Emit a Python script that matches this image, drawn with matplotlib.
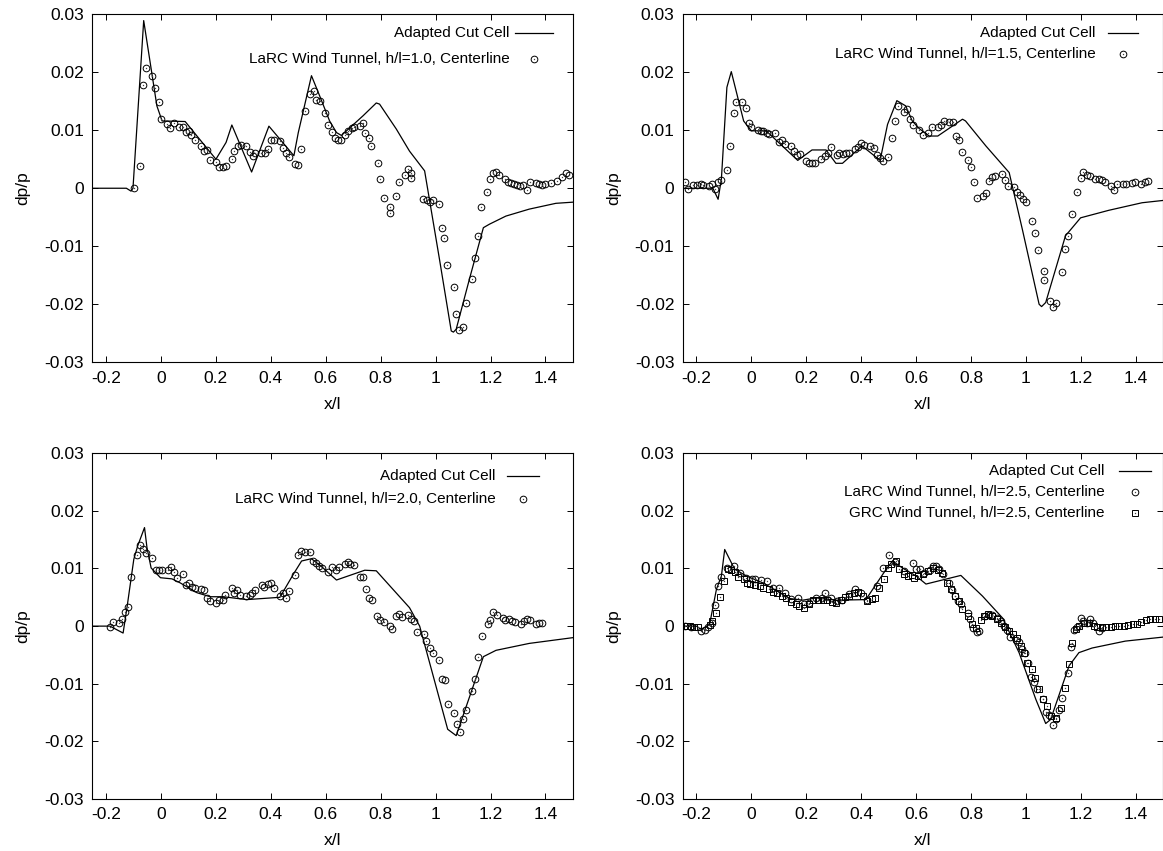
"""
Centerline pressure signatures dp/p vs x/l: adapted cut-cell solution
compared with wind-tunnel data at four h/l stations (2x2 panels).
"""

import matplotlib
matplotlib.use("Agg")
import matplotlib.pyplot as plt
from matplotlib.ticker import FuncFormatter

# ---------------------------------------------------------------------------
# Data
# ---------------------------------------------------------------------------
# h/l = 1.0
cfd10_x = [-0.25, -0.126, -0.109, -0.102, -0.063, -0.015, 0.004, 0.088, 0.2, 0.237,
           0.258, 0.33, 0.393, 0.484, 0.5, 0.548, 0.578, 0.614, 0.639, 0.657, 0.736,
           0.784, 0.796, 0.857, 0.905, 0.96, 1.014, 1.057, 1.065, 1.075, 1.123, 1.174,
           1.196, 1.256, 1.341, 1.438, 1.5]
cfd10_y = [0, 0, -0.0005, 0, 0.0289, 0.0142, 0.0116, 0.0115, 0.005, 0.0079,
           0.0109, 0.0028, 0.0107, 0.0056, 0.0096, 0.0194, 0.0159, 0.0116, 0.0096, 0.0091, 0.0125,
           0.0147, 0.0145, 0.0102, 0.0064, 0.003, -0.0122, -0.0246, -0.0248, -0.0243, -0.0157, -0.0068,
           -0.0062, -0.0048, -0.0036, -0.0026, -0.0024]
larc10_x = [-0.099, -0.076, -0.067, -0.053, -0.033, -0.021, -0.008, 0.001, 0.023, 0.034,
            0.046, 0.067, 0.079, 0.091, 0.102, 0.111, 0.125, 0.145, 0.156, 0.168,
            0.178, 0.2, 0.212, 0.224, 0.235, 0.258, 0.267, 0.279, 0.29, 0.311,
            0.323, 0.334, 0.344, 0.365, 0.379, 0.391, 0.399, 0.411, 0.433, 0.444,
            0.455, 0.467, 0.488, 0.5, 0.511, 0.524, 0.543, 0.556, 0.566, 0.578,
            0.599, 0.61, 0.622, 0.633, 0.645, 0.657, 0.669, 0.681, 0.694, 0.702,
            0.726, 0.736, 0.744, 0.756, 0.766, 0.789, 0.799, 0.811, 0.833, 0.833,
            0.856, 0.867, 0.888, 0.899, 0.911, 0.911, 0.955, 0.967, 0.978, 0.99,
            1.011, 1.023, 1.032, 1.043, 1.066, 1.076, 1.087, 1.099, 1.11, 1.132,
            1.142, 1.155, 1.165, 1.187, 1.198, 1.209, 1.22, 1.232, 1.253, 1.265,
            1.276, 1.286, 1.298, 1.309, 1.32, 1.332, 1.343, 1.365, 1.377, 1.387,
            1.399, 1.421, 1.441, 1.462, 1.474, 1.486]
larc10_y = [0.0, 0.0039, 0.0178, 0.0207, 0.0193, 0.0172, 0.0148, 0.012, 0.0111, 0.0103,
            0.0112, 0.0106, 0.0106, 0.0097, 0.0099, 0.0091, 0.0084, 0.0073, 0.0064, 0.0066,
            0.0048, 0.0045, 0.0036, 0.0037, 0.0039, 0.005, 0.0064, 0.0072, 0.0074, 0.0072,
            0.0063, 0.0055, 0.006, 0.006, 0.0061, 0.0067, 0.0083, 0.0083, 0.0082, 0.007,
            0.0061, 0.0053, 0.0041, 0.004, 0.0067, 0.0133, 0.0162, 0.0168, 0.0152, 0.0151,
            0.0129, 0.0109, 0.0097, 0.0087, 0.0084, 0.0084, 0.0091, 0.0099, 0.0104, 0.0106,
            0.0107, 0.0112, 0.0095, 0.0087, 0.0072, 0.0043, 0.0016, -0.0016, -0.0032, -0.0043,
            -0.0013, 0.0011, 0.0023, 0.0033, 0.0027, 0.0018, -0.0019, -0.002, -0.0024, -0.002,
            -0.0028, -0.0068, -0.0086, -0.0132, -0.017, -0.0216, -0.0244, -0.0239, -0.0198, -0.0157,
            -0.0121, -0.0083, -0.0033, -0.0006, 0.0016, 0.0026, 0.0028, 0.0022, 0.0016, 0.001,
            0.0009, 0.0007, 0.0005, 0.0004, 0.0005, -0.0003, 0.001, 0.0009, 0.0007, 0.0005,
            0.0007, 0.0009, 0.0013, 0.002, 0.0027, 0.0022]

# h/l = 1.5
cfd15_x = [-0.25, -0.14, -0.121, -0.109, -0.089, -0.073, -0.028, 0.0, 0.054, 0.169,
           0.221, 0.272, 0.308, 0.332, 0.403, 0.469, 0.496, 0.53, 0.562, 0.586,
           0.611, 0.648, 0.679, 0.769, 0.78, 0.854, 0.939, 0.987, 1.048, 1.057,
           1.072, 1.144, 1.199, 1.302, 1.423, 1.5]
cfd15_y = [0, 0, -0.0019, 0.0016, 0.0174, 0.0201, 0.0116, 0.0099, 0.0099, 0.0048,
           0.0066, 0.0066, 0.0043, 0.0043, 0.0073, 0.0048, 0.011, 0.0151, 0.0142, 0.0116,
           0.0103, 0.009, 0.009, 0.0119, 0.0116, 0.0073, 0.0027, -0.0071, -0.02, -0.0204,
           -0.0197, -0.0082, -0.0051, -0.0038, -0.0025, -0.0021]
larc15_x = [-0.242, -0.23, -0.212, -0.198, -0.185, -0.176, -0.154, -0.142, -0.131, -0.121,
            -0.109, -0.087, -0.077, -0.064, -0.055, -0.033, -0.021, -0.01, 0.0, 0.023,
            0.034, 0.044, 0.057, 0.066, 0.088, 0.1, 0.111, 0.122, 0.145, 0.155,
            0.165, 0.177, 0.199, 0.211, 0.222, 0.233, 0.255, 0.267, 0.278, 0.289,
            0.311, 0.321, 0.334, 0.344, 0.357, 0.377, 0.389, 0.4, 0.411, 0.433,
            0.445, 0.456, 0.467, 0.478, 0.499, 0.511, 0.522, 0.533, 0.556, 0.567,
            0.578, 0.589, 0.612, 0.624, 0.642, 0.657, 0.679, 0.691, 0.7, 0.721,
            0.733, 0.745, 0.757, 0.767, 0.79, 0.8, 0.812, 0.823, 0.844, 0.856,
            0.866, 0.878, 0.889, 0.912, 0.923, 0.933, 0.955, 0.967, 0.977, 0.988,
            1.0, 1.022, 1.033, 1.043, 1.065, 1.065, 1.086, 1.098, 1.109, 1.132,
            1.142, 1.154, 1.166, 1.187, 1.199, 1.209, 1.221, 1.232, 1.253, 1.265,
            1.278, 1.287, 1.308, 1.32, 1.332, 1.353, 1.365, 1.386, 1.399, 1.42,
            1.432, 1.443]
larc15_y = [0.001, -0.0001, 0.0006, 0.0006, 0.0008, 0.0006, 0.0004, 0.0008, -0.0002, 0.001,
            0.0014, 0.0032, 0.0073, 0.0129, 0.0149, 0.0149, 0.0139, 0.0113, 0.0106, 0.01,
            0.0098, 0.0099, 0.0095, 0.0094, 0.0096, 0.008, 0.0083, 0.0077, 0.0073, 0.0064,
            0.0057, 0.0059, 0.0047, 0.0044, 0.0043, 0.0043, 0.005, 0.0056, 0.0061, 0.0071,
            0.0057, 0.0061, 0.0059, 0.006, 0.0061, 0.0067, 0.0071, 0.0078, 0.0074, 0.0072,
            0.007, 0.0057, 0.0052, 0.0047, 0.0054, 0.0087, 0.0116, 0.0142, 0.0132, 0.0136,
            0.0119, 0.0109, 0.0101, 0.0091, 0.0096, 0.0105, 0.0105, 0.0109, 0.0116, 0.0114,
            0.0114, 0.009, 0.0083, 0.0063, 0.0049, 0.0036, 0.001, -0.0016, -0.0014, -0.0009,
            0.0013, 0.002, 0.0021, 0.0024, 0.0014, 0.0004, 0.0002, -0.0006, -0.0011, -0.0018,
            -0.0024, -0.0056, -0.0078, -0.0106, -0.0143, -0.0159, -0.0194, -0.0204, -0.0197, -0.0144,
            -0.0105, -0.0083, -0.0044, -0.0007, 0.0017, 0.0028, 0.0022, 0.0021, 0.0016, 0.0016,
            0.0014, 0.001, 0.0004, -0.0003, 0.0008, 0.0008, 0.0008, 0.0009, 0.0011, 0.0007,
            0.0011, 0.0013]

# h/l = 2.0
cfd20_x = [-0.25, -0.186, -0.138, -0.123, -0.099, -0.085, -0.06, -0.051, -0.036, -0.002,
           0.04, 0.07, 0.131, 0.179, 0.227, 0.312, 0.433, 0.482, 0.512, 0.548,
           0.59, 0.639, 0.742, 0.784, 0.905, 0.942, 1.044, 1.075, 1.174, 1.22,
           1.341, 1.5]
cfd20_y = [0, 0, -0.0012, 0.0035, 0.0116, 0.0139, 0.0171, 0.0136, 0.0101, 0.0084,
           0.0082, 0.0075, 0.0058, 0.0051, 0.0051, 0.0046, 0.005, 0.009, 0.0113, 0.0117,
           0.0101, 0.008, 0.0097, 0.0096, 0.0032, 0.0, -0.0179, -0.019, -0.0053, -0.0042,
           -0.003, -0.002]
larc20_x = [-0.186, -0.175, -0.154, -0.142, -0.131, -0.12, -0.109, -0.087, -0.076, -0.064,
            -0.053, -0.031, -0.019, -0.008, 0.004, 0.024, 0.035, 0.047, 0.058, 0.08,
            0.091, 0.103, 0.114, 0.123, 0.145, 0.157, 0.167, 0.179, 0.201, 0.213,
            0.224, 0.234, 0.257, 0.267, 0.278, 0.289, 0.311, 0.323, 0.333, 0.344,
            0.367, 0.376, 0.388, 0.399, 0.411, 0.433, 0.445, 0.457, 0.467, 0.488,
            0.5, 0.511, 0.524, 0.544, 0.554, 0.566, 0.576, 0.588, 0.61, 0.622,
            0.637, 0.649, 0.669, 0.681, 0.69, 0.702, 0.724, 0.736, 0.746, 0.756,
            0.767, 0.788, 0.799, 0.811, 0.833, 0.842, 0.854, 0.865, 0.877, 0.899,
            0.909, 0.921, 0.932, 0.956, 0.966, 0.978, 0.99, 1.011, 1.023, 1.035,
            1.044, 1.066, 1.078, 1.09, 1.099, 1.111, 1.133, 1.145, 1.156, 1.168,
            1.19, 1.199, 1.21, 1.222, 1.244, 1.254, 1.266, 1.277, 1.289, 1.311,
            1.321, 1.332, 1.343, 1.365, 1.375, 1.387]
larc20_y = [-0.0001, 0.0007, 0.0005, 0.0012, 0.0025, 0.0033, 0.0086, 0.0124, 0.014, 0.0134,
            0.0127, 0.0118, 0.0098, 0.0097, 0.0097, 0.0098, 0.0103, 0.0094, 0.0083, 0.0091,
            0.0071, 0.0075, 0.0068, 0.0066, 0.0064, 0.0062, 0.0049, 0.0043, 0.004, 0.0045,
            0.0045, 0.0054, 0.0066, 0.0058, 0.0062, 0.0054, 0.0052, 0.0054, 0.0057, 0.0062,
            0.0071, 0.0068, 0.0073, 0.0074, 0.0066, 0.0053, 0.0057, 0.0049, 0.0061, 0.0088,
            0.0123, 0.013, 0.0128, 0.0128, 0.0113, 0.0109, 0.0105, 0.01, 0.0094, 0.0102,
            0.0098, 0.0102, 0.0107, 0.0111, 0.0107, 0.0106, 0.0085, 0.0085, 0.0065, 0.0049,
            0.0046, 0.0018, 0.001, 0.0008, 0.0, -0.0005, 0.0018, 0.0021, 0.0016, 0.0019,
            0.0012, 0.0009, -0.001, -0.0013, -0.0026, -0.0038, -0.0046, -0.0058, -0.0091, -0.0094,
            -0.0136, -0.015, -0.017, -0.0184, -0.0162, -0.0146, -0.0113, -0.0091, -0.0053, -0.0018,
            0.0003, 0.001, 0.0024, 0.002, 0.0014, 0.001, 0.0013, 0.0009, 0.0007, 0.0004,
            0.0009, 0.0012, 0.001, 0.0004, 0.0005, 0.0006]

# h/l = 2.5
cfd25_x = [-0.25, -0.2, -0.182, -0.152, -0.127, -0.109, -0.097, -0.061, -0.018, 0.042,
           0.09, 0.139, 0.187, 0.236, 0.308, 0.417, 0.49, 0.514, 0.55, 0.6,
           0.636, 0.763, 0.842, 0.915, 0.975, 1.036, 1.072, 1.09, 1.157, 1.193,
           1.241, 1.362, 1.5]
cfd25_y = [0, 0, -0.0006, 0.0003, 0.0064, 0.0087, 0.0133, 0.0099, 0.0087, 0.0075,
           0.0062, 0.0048, 0.0045, 0.0049, 0.0045, 0.0046, 0.0098, 0.0113, 0.0101, 0.0087,
           0.0073, 0.0088, 0.0052, 0.0014, -0.0046, -0.0127, -0.0169, -0.0162, -0.0069, -0.0046,
           -0.0038, -0.0026, -0.0019]
larc25_x = [-0.242, -0.218, -0.182, -0.17, -0.158, -0.142, -0.131, -0.121, -0.109, -0.089,
            -0.064, -0.043, -0.021, 0.001, 0.013, 0.036, 0.057, 0.078, 0.102, 0.124,
            0.145, 0.169, 0.191, 0.211, 0.236, 0.257, 0.268, 0.29, 0.312, 0.332,
            0.357, 0.378, 0.401, 0.423, 0.456, 0.478, 0.502, 0.524, 0.556, 0.59,
            0.601, 0.616, 0.63, 0.651, 0.663, 0.673, 0.685, 0.697, 0.719, 0.731,
            0.742, 0.754, 0.763, 0.788, 0.797, 0.809, 0.82, 0.83, 0.852, 0.864,
            0.875, 0.896, 0.909, 0.919, 0.93, 0.942, 0.963, 0.975, 0.987, 0.997,
            1.008, 1.02, 1.03, 1.042, 1.063, 1.074, 1.084, 1.099, 1.108, 1.12,
            1.132, 1.154, 1.165, 1.175, 1.187, 1.199, 1.209, 1.221, 1.233, 1.244,
            1.265, 1.278]
larc25_y = [0.0, -0.0001, -0.0009, -0.0007, -0.0001, 0.0005, 0.0036, 0.0069, 0.0086, 0.0101,
            0.0105, 0.0092, 0.0084, 0.0082, 0.0081, 0.008, 0.0078, 0.0066, 0.0066, 0.0058,
            0.0047, 0.0048, 0.0038, 0.004, 0.0048, 0.0049, 0.0058, 0.0049, 0.0043, 0.0046,
            0.0056, 0.0065, 0.0058, 0.0045, 0.0069, 0.0101, 0.0123, 0.0111, 0.0095, 0.011,
            0.0099, 0.0099, 0.0092, 0.0098, 0.0104, 0.0104, 0.0099, 0.0091, 0.0075, 0.0062,
            0.0053, 0.0043, 0.0039, 0.0023, 0.0013, -0.0004, -0.001, -0.0009, 0.0017, 0.002,
            0.0019, 0.0014, 0.0009, 0.0, -0.0006, -0.0019, -0.0024, -0.0028, -0.004, -0.0046,
            -0.0064, -0.0088, -0.0097, -0.0109, -0.0126, -0.0149, -0.0155, -0.0171, -0.0161, -0.0145,
            -0.0124, -0.0082, -0.0036, -0.0007, -0.0001, 0.0014, 0.0009, 0.0006, 0.0012, 0.0005,
            -0.0009, -0.0003]
grc25_x = [-0.236, -0.224, -0.21, -0.194, -0.152, -0.143, -0.127, -0.115, -0.101, -0.085,
           -0.073, -0.061, -0.048, -0.028, -0.016, -0.004, 0.015, 0.03, 0.044, 0.064,
           0.078, 0.093, 0.112, 0.127, 0.145, 0.161, 0.175, 0.193, 0.209, 0.223,
           0.242, 0.26, 0.274, 0.294, 0.308, 0.326, 0.342, 0.357, 0.375, 0.39,
           0.405, 0.423, 0.439, 0.451, 0.465, 0.484, 0.496, 0.508, 0.526, 0.538,
           0.556, 0.572, 0.584, 0.594, 0.606, 0.624, 0.642, 0.661, 0.679, 0.694,
           0.711, 0.727, 0.743, 0.755, 0.769, 0.788, 0.802, 0.818, 0.836, 0.848,
           0.863, 0.878, 0.893, 0.909, 0.924, 0.939, 0.953, 0.969, 0.981, 0.993,
           1.005, 1.021, 1.033, 1.048, 1.062, 1.078, 1.09, 1.108, 1.126, 1.142,
           1.157, 1.169, 1.181, 1.195, 1.211, 1.229, 1.247, 1.259, 1.278, 1.292,
           1.308, 1.324, 1.338, 1.356, 1.372, 1.389, 1.405, 1.42, 1.437, 1.453,
           1.469, 1.483]
grc25_y = [0.0, 0.0, -0.0001, -0.0001, 0.0002, 0.0009, 0.0022, 0.005, 0.0079, 0.0099,
           0.0098, 0.0094, 0.0086, 0.0082, 0.0074, 0.0073, 0.0071, 0.0069, 0.0066, 0.0064,
           0.006, 0.0057, 0.0053, 0.0049, 0.0042, 0.0039, 0.0035, 0.0032, 0.0038, 0.0045,
           0.0046, 0.0046, 0.0046, 0.0042, 0.004, 0.0046, 0.005, 0.0053, 0.0058, 0.0059,
           0.0052, 0.0043, 0.0047, 0.0048, 0.0066, 0.0081, 0.0101, 0.0107, 0.0113, 0.0099,
           0.009, 0.0087, 0.0088, 0.0084, 0.0087, 0.0091, 0.0095, 0.0101, 0.0098, 0.0092,
           0.0075, 0.0064, 0.0053, 0.0043, 0.003, 0.0017, 0.0003, -0.0003, 0.001, 0.0017,
           0.0021, 0.0017, 0.0013, 0.0006, -0.0001, -0.0009, -0.0014, -0.002, -0.0035, -0.0046,
           -0.0064, -0.0074, -0.009, -0.0109, -0.0126, -0.0138, -0.0156, -0.0159, -0.0142, -0.0107,
           -0.0066, -0.0029, -0.0005, 0.0, 0.0005, 0.0006, 0.0001, -0.0001, -0.0002, -0.0001,
           -0.0002, 0.0, 0.0001, 0.0001, 0.0002, 0.0003, 0.0004, 0.0007, 0.001, 0.0012,
           0.0013, 0.0013]

x_ticks = [-0.2, 0, 0.2, 0.4, 0.6, 0.8, 1.0, 1.2, 1.4]
y_ticks = [-0.03, -0.02, -0.01, 0, 0.01, 0.02, 0.03]

# ---------------------------------------------------------------------------
# Style
# ---------------------------------------------------------------------------
plt.rcParams.update({
    "font.family": ["Liberation Sans", "DejaVu Sans"],
    "font.size": 11,
    "axes.unicode_minus": False,
    "axes.linewidth": 0.8,
})

MS = 4.8    # marker size of the data symbols
MEW = 0.7

fig = plt.figure(figsize=(11.63, 8.51), dpi=100)

# panel boxes in figure fractions [left, bottom, width, height]
W, H = 0.4132, 0.409
boxes = [
    [0.0794, 0.5743, W, H],
    [0.5870, 0.5743, W, H],
    [0.0794, 0.0611, W, 0.4063],
    [0.5870, 0.0611, W, 0.4063],
]
axes = [fig.add_axes(b) for b in boxes]


def sym(ax, x, y, shape, **kw):
    """gnuplot-like open symbol with a dot in its centre."""
    ax.plot(x, y, linestyle="none", marker=shape, ms=MS, mfc="none",
            mec="black", mew=MEW, **kw)
    ax.plot(x, y, linestyle="none", marker="o", ms=1.0, mfc="#444444",
            mec="none", **kw)


def key(ax, text_right, line_x0, line_x1, y_top, dy, entries):
    """Right aligned key drawn in axes coordinates (gnuplot style)."""
    xm = 0.5 * (line_x0 + line_x1)
    for i, (kind, label) in enumerate(entries):
        y = y_top - i * dy
        ax.text(text_right, y, label, transform=ax.transAxes,
                ha="right", va="center")
        if kind == "line":
            ax.plot([line_x0, line_x1], [y, y], color="black", lw=0.9,
                    transform=ax.transAxes, clip_on=False)
        else:
            sym(ax, [xm], [y], kind, transform=ax.transAxes, clip_on=False)


def style(ax):
    ax.set_xlim(-0.25, 1.5)
    ax.set_ylim(-0.03, 0.03)
    ax.set_xticks(x_ticks)
    ax.set_yticks(y_ticks)
    fmt = FuncFormatter(lambda v, p: "%g" % round(v, 6))
    ax.xaxis.set_major_formatter(fmt)
    ax.yaxis.set_major_formatter(fmt)
    ax.tick_params(direction="in", length=4, width=0.7, top=True, right=True,
                   pad=6, labelsize=12.5)
    ax.set_xlabel("x/l", fontsize=12.5, labelpad=8)
    ax.set_ylabel("dp/p", fontsize=12.5, labelpad=10)


panels = [
    (cfd10_x, cfd10_y, [(larc10_x, larc10_y, "o")],
     ["LaRC Wind Tunnel, h/l=1.0, Centerline"], (0.8685, 0.879, 0.958, 0.945, 0.074)),
    (cfd15_x, cfd15_y, [(larc15_x, larc15_y, "o")],
     ["LaRC Wind Tunnel, h/l=1.5, Centerline"], (0.8595, 0.886, 0.948, 0.945, 0.058)),
    (cfd20_x, cfd20_y, [(larc20_x, larc20_y, "o")],
     ["LaRC Wind Tunnel, h/l=2.0, Centerline"], (0.8387, 0.862, 0.93, 0.933, 0.066)),
    (cfd25_x, cfd25_y, [(larc25_x, larc25_y, "o"), (grc25_x, grc25_y, "s")],
     ["LaRC Wind Tunnel, h/l=2.5, Centerline",
      "GRC Wind Tunnel, h/l=2.5, Centerline"], (0.8774, 0.9085, 0.974, 0.948, 0.060)),
]

for ax, (lx, ly, sets, labels, kpos) in zip(axes, panels):
    ax.plot(lx, ly, color="black", lw=0.9)
    for sx, sy, shape in sets:
        sym(ax, sx, sy, shape)
    style(ax)
    entries = [("line", "Adapted Cut Cell")]
    entries += [(shape, lab) for (_, _, shape), lab in zip(sets, labels)]
    key(ax, *kpos, entries)

fig.savefig("out.png", dpi=100, facecolor="white")
